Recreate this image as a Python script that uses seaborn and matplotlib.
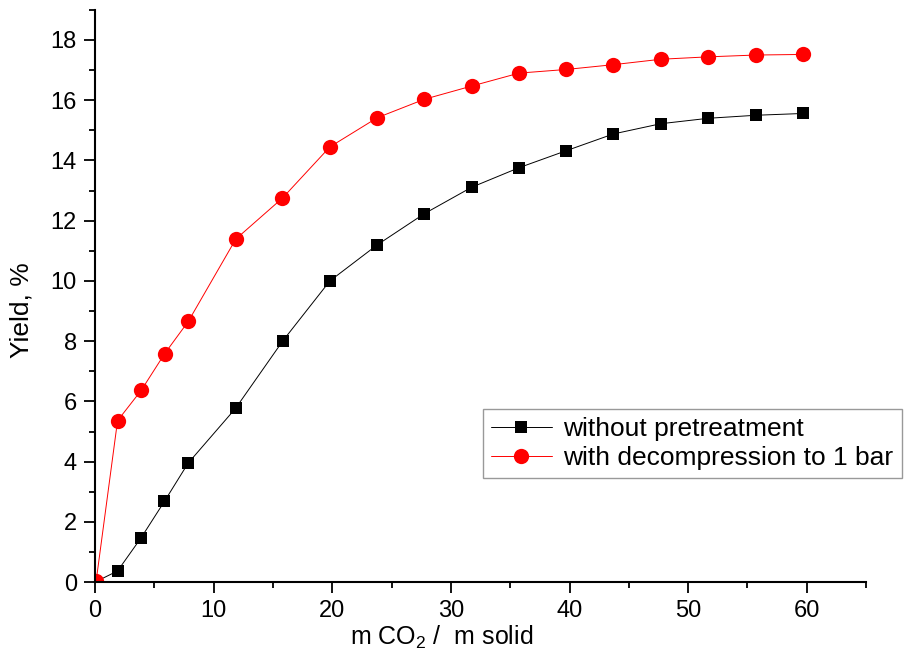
import matplotlib
matplotlib.use("Agg")
import matplotlib.pyplot as plt
from matplotlib.ticker import MultipleLocator
import pandas as pd
import seaborn as sns

# extraction curves
x_plain = [0.0, 1.9, 3.9, 5.85, 7.85, 11.85, 15.85, 19.8, 23.8, 27.75,
           31.75, 35.75, 39.7, 43.7, 47.7, 51.7, 55.7, 59.7]
y_plain = [0.0, 0.37, 1.48, 2.68, 3.95, 5.77, 8.02, 10.0, 11.2, 12.23,
           13.11, 13.76, 14.32, 14.88, 15.22, 15.4, 15.5, 15.56]

x_decomp = [0.1, 1.9, 3.9, 5.88, 7.87, 11.87, 15.8, 19.8, 23.8, 27.75,
            31.75, 35.75, 39.7, 43.7, 47.7, 51.7, 55.7, 59.7]
y_decomp = [0.05, 5.36, 6.37, 7.59, 8.66, 11.39, 12.75, 14.45, 15.42, 16.03,
            16.47, 16.9, 17.02, 17.18, 17.36, 17.44, 17.5, 17.52]

label_plain = "without pretreatment"
label_decomp = "with decompression to 1 bar"

sns.set_style("ticks")
plt.rcParams["font.family"] = ["Liberation Sans", "DejaVu Sans"]
plt.rcParams["mathtext.fontset"] = "custom"
plt.rcParams["mathtext.rm"] = "Liberation Sans"
plt.rcParams["mathtext.it"] = "Liberation Sans:italic"
plt.rcParams["axes.labelcolor"] = "black"
plt.rcParams["text.color"] = "black"

df_plain = pd.DataFrame({"x": x_plain, "y": y_plain})
df_decomp = pd.DataFrame({"x": x_decomp, "y": y_decomp})

fig = plt.figure(figsize=(9.05, 6.57), dpi=100)
ax = fig.add_axes([0.105, 0.114, 0.852, 0.871])

sns.lineplot(
    data=df_plain, x="x", y="y", ax=ax,
    color="black", linewidth=0.7,
    marker="s", markersize=9, markeredgecolor="black",
    markeredgewidth=0, label=label_plain, estimator=None, sort=False
)

sns.lineplot(
    data=df_decomp, x="x", y="y", ax=ax,
    color="#ff0000", linewidth=0.7,
    marker="o", markersize=11, markeredgecolor="#ff0000",
    markeredgewidth=0, label=label_decomp, estimator=None, sort=False
)

ax.set_xlim(0, 65)
ax.set_ylim(0, 19)
ax.xaxis.set_major_locator(MultipleLocator(10))
ax.xaxis.set_minor_locator(MultipleLocator(5))
ax.yaxis.set_major_locator(MultipleLocator(2))
ax.yaxis.set_minor_locator(MultipleLocator(1))

for side in ["top", "right"]:
    ax.spines[side].set_visible(False)
for side in ["left", "bottom"]:
    ax.spines[side].set_linewidth(1.5)
    ax.spines[side].set_color("black")

ax.tick_params(which="major", length=8, width=1.3, labelsize=17,
               colors="black", pad=5)
ax.tick_params(which="minor", length=4, width=1.3, colors="black")

ax.set_xlabel(r"m CO$_2$ /  m solid", fontsize=18)
ax.set_ylabel("Yield, %", fontsize=19)
ax.xaxis.set_label_coords(0.45, -0.072)
ax.yaxis.set_label_coords(-0.08, 0.475)

leg = ax.legend(
    loc="upper left",
    bbox_to_anchor=(483 / 905, 1 - 409 / 657),
    bbox_transform=fig.transFigure,
    borderaxespad=0,
    fontsize=19,
    frameon=True,
    fancybox=False,
    edgecolor="#808080",
    handlelength=2.3,
    handletextpad=0.45,
    labelspacing=0.2,
    borderpad=0.3,
)
leg.get_frame().set_linewidth(1.0)

fig.savefig("out.png", dpi=100)
plt.close(fig)
